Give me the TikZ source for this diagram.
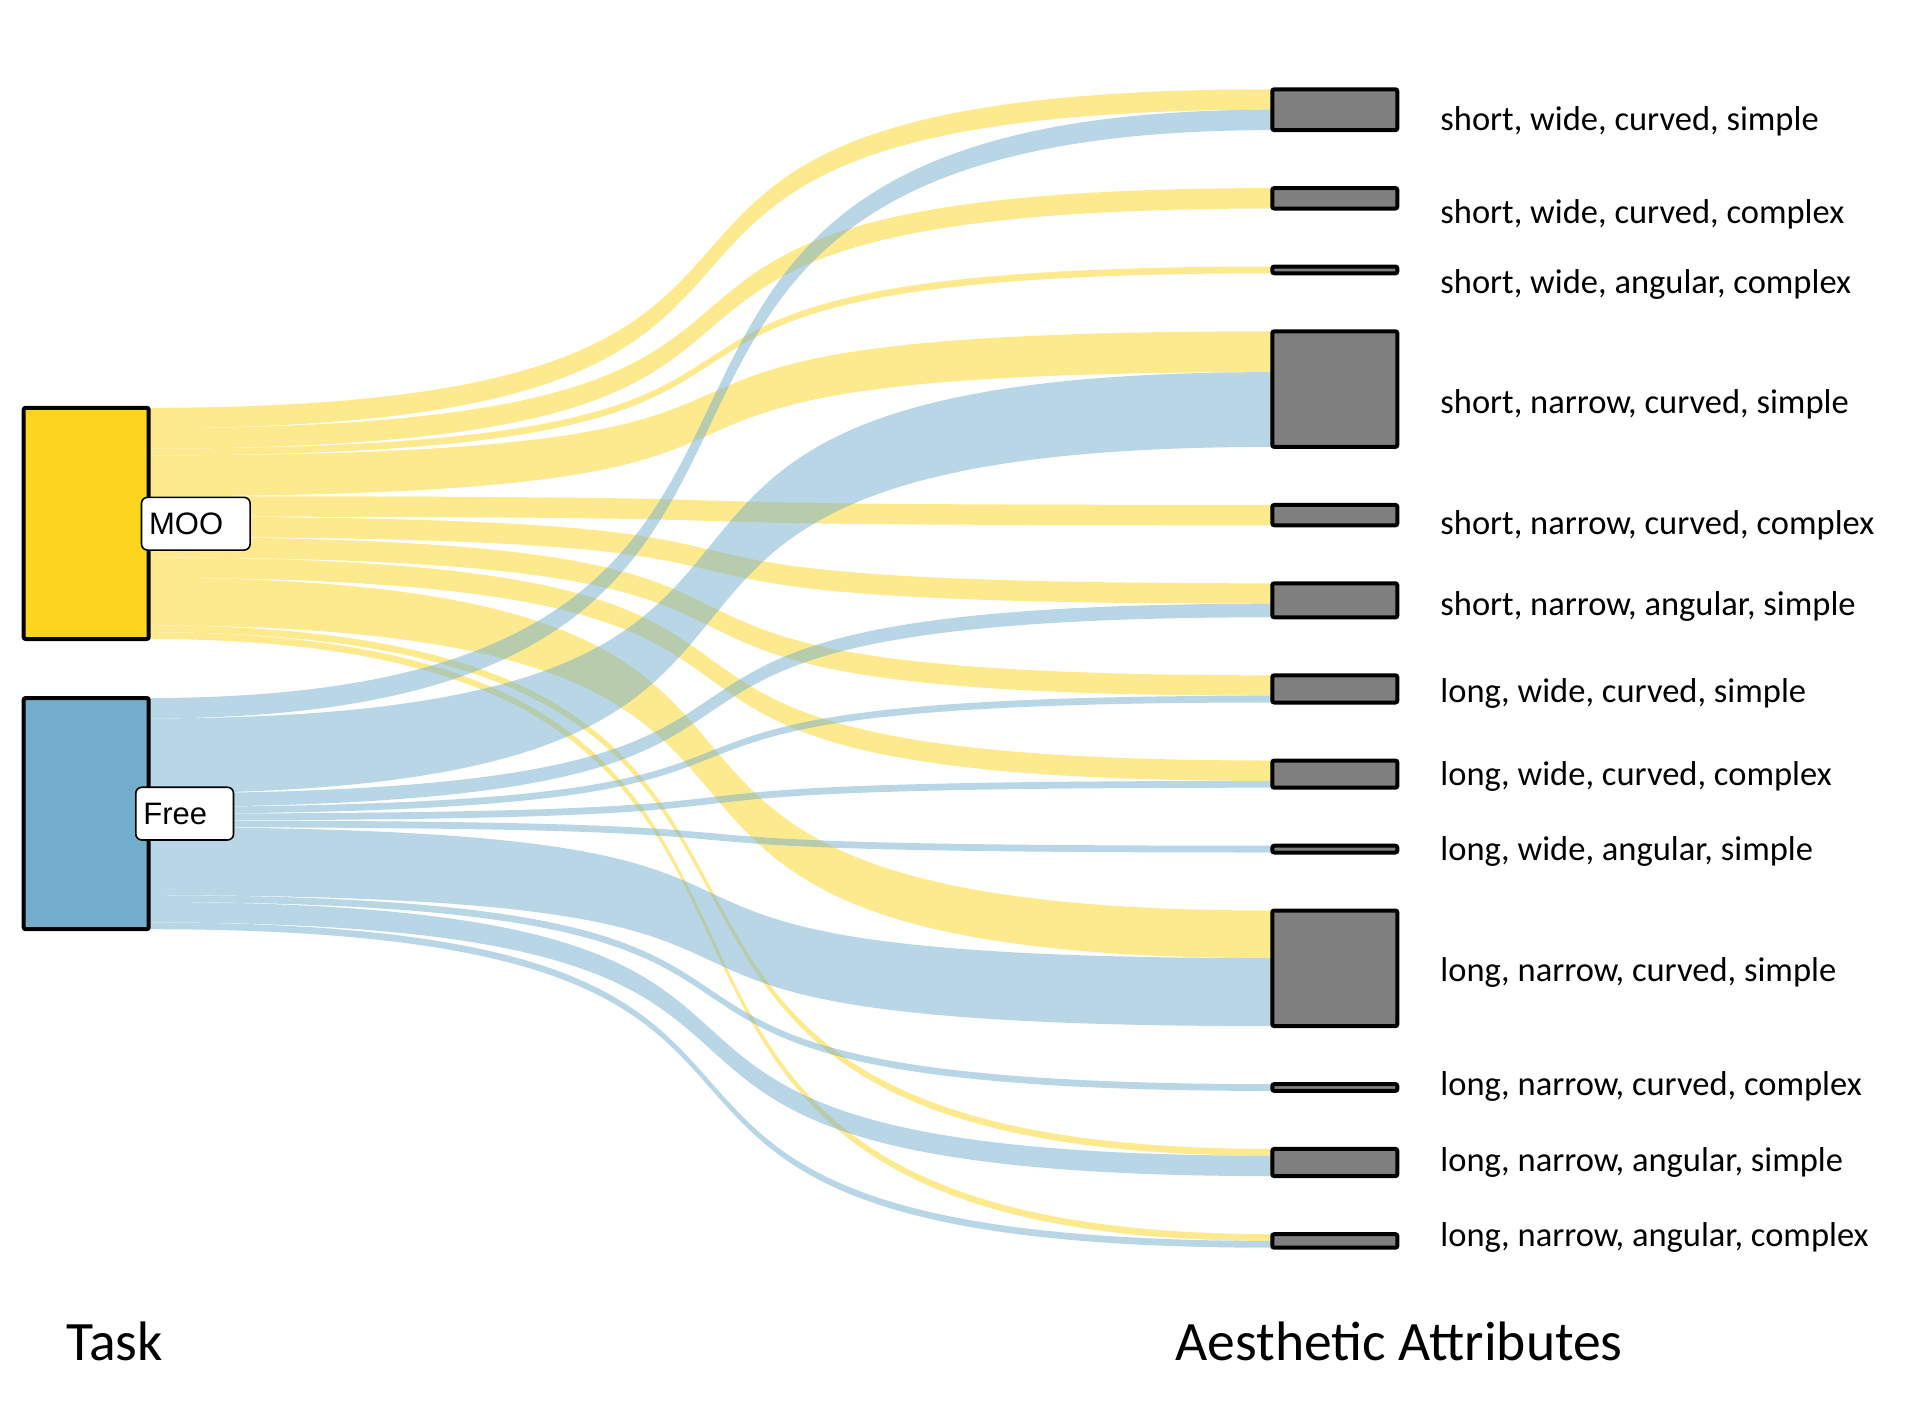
\documentclass[tikz,border=0pt]{standalone}
\usepackage{fontspec}
\setmainfont{Carlito}
\newfontfamily\arialfont{Liberation Sans}
\usetikzlibrary{calc,backgrounds}

\definecolor{moocol}{RGB}{253,213,30}
\definecolor{freecol}{RGB}{114,174,203}
\definecolor{attrgray}{RGB}{127,127,127}

%% one flow: from node, offset, to node, offset, count, colour
\newcommand{\flow}[6]{%
  \fill[#6] ($(#1.north east)+(0,#2*6.8)$) .. controls +(842.7,0) and +(-842.7,0) .. ($(#3.north west)+(0,#4*6.8)$)
    -- ++(0,#5*6.8) .. controls +(-842.7,0) and +(842.7,0) .. ($(#1.north east)+(0,#2*6.8+#5*6.8)$) -- cycle;}

\begin{document}
\begin{tikzpicture}[x=0.5pt, y=-0.5pt,
  taskbox/.style={draw, line width=2pt, rounded corners=1pt, minimum width=62.5pt,
    minimum height=#1*3.4pt, inner sep=0pt, outer sep=0pt},
  attrbox/.style={taskbox=#1, fill=attrgray},
  tasktag/.style={draw, fill=white, line width=0.8pt, rounded corners=3pt, anchor=west,
    inner xsep=3.8pt, inner ysep=0pt, minimum height=26.35pt, align=left,
    font=\arialfont\fontsize{15.5pt}{18pt}\selectfont},
  attrlabel/.style={anchor=base west, inner sep=0pt, font=\fontsize{17.25pt}{20pt}\selectfont},
  axistitle/.style={anchor=base west, inner sep=0pt, font=\fontsize{27.8pt}{32pt}\selectfont}]

\useasboundingbox (0,0) rectangle (1920,1409);

%% strata: task
\node[taskbox=34, fill=moocol] (moo) at (86.2,523.4) {};
\node[taskbox=34, fill=freecol] (free) at (86.2,813.6) {};

%% strata: aesthetic attributes
\node[attrbox=6] (swcs) at (1334.8,109.7) {};    %% short, wide, curved, simple
\node[attrbox=3] (swcc) at (1334.8,198.3) {};    %% short, wide, curved, complex
\node[attrbox=1] (swac) at (1334.8,269.9) {};    %% short, wide, angular, complex
\node[attrbox=17] (sncs) at (1334.8,389.1) {};   %% short, narrow, curved, simple
\node[attrbox=3] (sncc) at (1334.8,515.1) {};    %% short, narrow, curved, complex
\node[attrbox=5] (snas) at (1334.8,600.3) {};    %% short, narrow, angular, simple
\node[attrbox=4] (lwcs) at (1334.8,688.9) {};    %% long, wide, curved, simple
\node[attrbox=4] (lwcc) at (1334.8,774.1) {};    %% long, wide, curved, complex
\node[attrbox=1] (lwas) at (1334.8,849.1) {};    %% long, wide, angular, simple
\node[attrbox=17] (lncs) at (1334.8,968.3) {};   %% long, narrow, curved, simple
\node[attrbox=1] (lncc) at (1334.8,1087.5) {};   %% long, narrow, curved, complex
\node[attrbox=4] (lnas) at (1334.8,1162.5) {};   %% long, narrow, angular, simple
\node[attrbox=2] (lnac) at (1334.8,1240.9) {};   %% long, narrow, angular, complex

%% flows
\begin{scope}[on background layer]
\begin{scope}[transparency group, opacity=0.5]
\flow{moo}{0}{swcs}{0}{3}{moocol}
\flow{moo}{3}{swcc}{0}{3}{moocol}
\flow{moo}{6}{swac}{0}{1}{moocol}
\flow{moo}{7}{sncs}{0}{6}{moocol}
\flow{moo}{13}{sncc}{0}{3}{moocol}
\flow{moo}{16}{snas}{0}{3}{moocol}
\flow{moo}{19}{lwcs}{0}{3}{moocol}
\flow{moo}{22}{lwcc}{0}{3}{moocol}
\flow{moo}{25}{lncs}{0}{7}{moocol}
\flow{moo}{32}{lnas}{0}{1}{moocol}
\flow{moo}{33}{lnac}{0}{1}{moocol}
\end{scope}
\begin{scope}[transparency group, opacity=0.5]
\flow{free}{0}{swcs}{3}{3}{freecol}
\flow{free}{3}{sncs}{6}{11}{freecol}
\flow{free}{14}{snas}{3}{2}{freecol}
\flow{free}{16}{lwcs}{3}{1}{freecol}
\flow{free}{17}{lwcc}{3}{1}{freecol}
\flow{free}{18}{lwas}{0}{1}{freecol}
\flow{free}{19}{lncs}{7}{10}{freecol}
\flow{free}{29}{lncc}{0}{1}{freecol}
\flow{free}{30}{lnas}{1}{3}{freecol}
\flow{free}{33}{lnac}{1}{1}{freecol}
\end{scope}
\end{scope}

%% stratum tags
\node[tasktag, text width=46.7pt] (moolab) at (140.7,523.7) {MOO};
\node[tasktag, text width=41.25pt] (freelab) at (135,813.6) {Free};

%% attribute labels
\node[attrlabel] (lswcs) at (1440,130) {short, wide, curved, simple};
\node[attrlabel] (lswcc) at (1440,223.3) {short, wide, curved, complex};
\node[attrlabel] (lswac) at (1440,293.3) {short, wide, angular, complex};
\node[attrlabel] (lsncs) at (1440,413.3) {short, narrow, curved, simple};
\node[attrlabel] (lsncc) at (1440,534) {short, narrow, curved, complex};
\node[attrlabel] (lsnas) at (1440,615) {short, narrow, angular, simple};
\node[attrlabel] (llwcs) at (1440,702.7) {long, wide, curved, simple};
\node[attrlabel] (llwcc) at (1440,785) {long, wide, curved, complex};
\node[attrlabel] (llwas) at (1440,860) {long, wide, angular, simple};
\node[attrlabel] (llncs) at (1440,981.7) {long, narrow, curved, simple};
\node[attrlabel] (llncc) at (1440,1095) {long, narrow, curved, complex};
\node[attrlabel] (llnas) at (1440,1171.7) {long, narrow, angular, simple};
\node[attrlabel] (llnac) at (1440,1246.7) {long, narrow, angular, complex};

%% axis titles
\node[axistitle] (tasktitle) at (66,1360) {Task};
\node[axistitle] (attrtitle) at (1175,1360) {Aesthetic Attributes};
\end{tikzpicture}
\end{document}
